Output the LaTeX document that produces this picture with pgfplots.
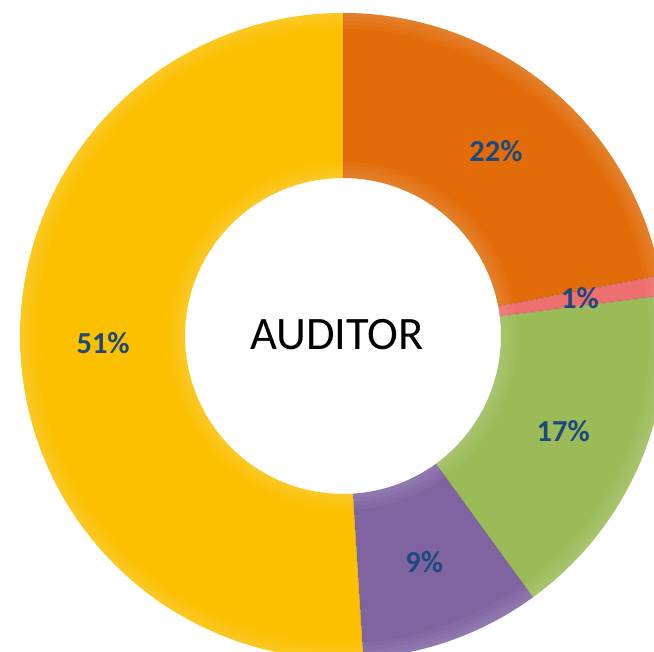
\documentclass[border=0pt]{standalone}
\usepackage{pgfplots}
\pgfplotsset{compat=1.18}
\usepackage{pgfplotstable}
\usepackage{fontspec}
\setmainfont{Carlito}
\definecolor{cOrange}{HTML}{E36C0A}
\definecolor{cRed}{HTML}{EE6F6F}
\definecolor{cGreen}{HTML}{9BBB59}
\definecolor{cPurple}{HTML}{8064A2}
\definecolor{cYellow}{HTML}{FBC000}
\definecolor{cLabel}{HTML}{1F497D}

\pgfplotstableread{
idx value col
0 22 cOrange
1 1 cRed
2 17 cGreen
3 9 cPurple
4 51 cYellow
}\piedata

\def\cum{90}
\pgfplotsforeachungrouped \i in {0,...,4}{%
  \pgfplotstablegetelem{\i}{value}\of\piedata
  \expandafter\xdef\csname val\i\endcsname{\pgfplotsretval}%
  \pgfmathsetmacro\ang{\pgfplotsretval*3.6}%
  \expandafter\xdef\csname sa\i\endcsname{\cum}%
  \pgfmathsetmacro\mid{\cum-\ang/2}%
  \expandafter\xdef\csname ma\i\endcsname{\mid}%
  \pgfmathsetmacro\cum{\cum-\ang}%
  \expandafter\xdef\csname ea\i\endcsname{\cum}%
  \pgfplotstablegetelem{\i}{col}\of\piedata
  \expandafter\xdef\csname col\i\endcsname{\pgfplotsretval}%
}

\begin{document}
\begin{tikzpicture}
\path[use as bounding box] (0,0) rectangle (654pt,652pt);
\begin{axis}[hide axis, x=1pt, y=1pt, xmin=0, xmax=654, ymin=0, ymax=652,
  scale only axis, at={(0,0)}, anchor=south west, clip=true]
\pgfplotsinvokeforeach{0,...,4}{
  \fill[\csname col#1\endcsname] (axis cs:343,316) ++(\csname sa#1\endcsname:323pt)
    arc[start angle=\csname sa#1\endcsname, end angle=\csname ea#1\endcsname, radius=323pt]
    -- ++(\csname ea#1\endcsname:-165pt)
    arc[start angle=\csname ea#1\endcsname, end angle=\csname sa#1\endcsname, radius=158pt]
    -- cycle;
  \draw[black, opacity=0.12, line width=0.8pt] (axis cs:343,316) ++(\csname sa#1\endcsname:158pt) -- ++(\csname sa#1\endcsname:165pt);
}
% subtle bevel highlights (gradient rings)
\pgfplotsinvokeforeach{4,8,12,16}{
  \fill[white, opacity=0.035, even odd rule] (axis cs:343,316) circle[radius=323pt] (axis cs:343,316) circle[radius={(323-#1)*1pt}];
  \fill[white, opacity=0.035, even odd rule] (axis cs:343,316) circle[radius={(158+#1)*1pt}] (axis cs:343,316) circle[radius=158pt];
}
\pgfplotsinvokeforeach{0,...,4}{
  \path (axis cs:343,316) ++(\csname ma#1\endcsname:240pt)
    node[text=cLabel, font=\bfseries\fontsize{30.5}{30.5}\selectfont] {\csname val#1\endcsname\%};
}
\node[font=\fontsize{46.5}{46.5}\selectfont, text=black] at (axis cs:337,317) {AUDITOR};
\end{axis}
\end{tikzpicture}
\end{document}
